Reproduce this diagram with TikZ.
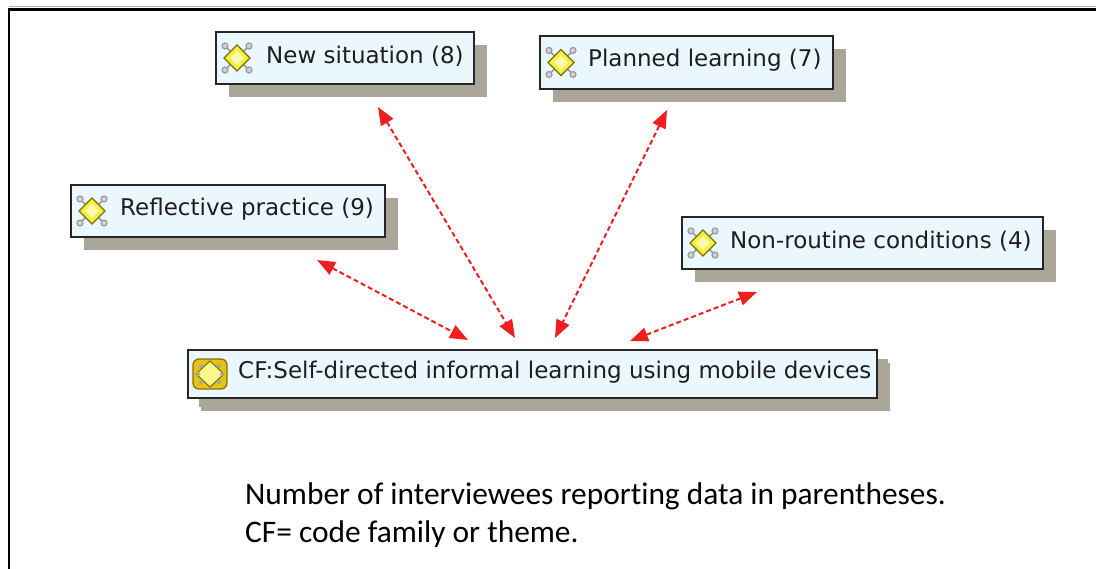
\documentclass[tikz,border=0pt]{standalone}
\usepackage{fontspec}
\setmainfont{DejaVu Sans}
\newfontfamily\calib[Ligatures=CommonOff]{Carlito}
\usetikzlibrary{arrows.meta,shadows}
\definecolor{shadowc}{RGB}{170,166,154}
\definecolor{boxfill}{RGB}{234,248,254}
\definecolor{txt}{RGB}{30,30,30}
\definecolor{arrred}{RGB}{240,30,30}
\definecolor{diafill}{RGB}{245,240,60}
\definecolor{diaedge}{RGB}{120,110,20}
\definecolor{cfgold}{RGB}{228,196,20}
\definecolor{cfedge}{RGB}{140,110,10}
\tikzset{
  box/.style={draw=black!85, line width=2pt, fill=boxfill, rectangle, inner sep=0pt, anchor=north west,
    drop shadow={shadow xshift=13pt, shadow yshift=-13pt, fill=shadowc, opacity=1}},
  cfbox/.style={box, drop shadow={shadow xshift=11pt, shadow yshift=-9pt, fill=shadowc, opacity=1}},
  lbl/.style={anchor=west, inner sep=0pt, text=txt, font=\fontsize{23}{27}\selectfont},
  note/.style={anchor=base west, inner sep=0pt, text=black, font=\calib\fontsize{31.4}{36}\selectfont},
  arr/.style={draw=arrred, line width=2pt, dash pattern=on 5pt off 3pt,
    {Triangle[length=18pt,width=14pt,fill=arrred]}-{Triangle[length=18pt,width=14pt,fill=arrred]}},
  icon/.pic={
    \foreach \a in {45,135,225,315}{
      \draw[gray!80, line width=1.6pt] (\a:6) -- (\a:17);
      \draw[gray!80, fill=gray!35, line width=1.2pt] (\a:17) circle (3);
    }
    \draw[fill=diafill, draw=diaedge, line width=1.3pt] (0,13) -- (13,0) -- (0,-13) -- (-13,0) -- cycle;
    \fill[white, opacity=0.6] (0,7) -- (7,0) -- (0,-7) -- (-7,0) -- cycle;
  },
  cficon/.pic={
    \draw[fill=cfgold, draw=cfedge, line width=1.3pt, rounded corners=6pt] (-17,-15) rectangle (17,15);
    \draw[fill=diafill!60!white, draw=diaedge, line width=1pt] (0,13) -- (14,0) -- (0,-13) -- (-14,0) -- cycle;
    \foreach \p in {(-9,-8),(9,-8),(-9,8),(9,8),(-12,0),(12,0)}{
      \fill[gray!70] \p circle (2);
    }
  }
}
\begin{document}
\begin{tikzpicture}[x=1pt,y=-1pt]
\useasboundingbox (0,0) rectangle (1096,569);
\fill[white] (0,0) rectangle (1096,569);
% frame
\draw[gray!60, line width=1pt] (9,7) -- (1096,7);
\draw[black, line width=2.2pt] (9,569) -- (9,9.5) -- (1096,9.5);

% boxes
\node[box, minimum width=258pt, minimum height=52pt] (ns) at (215,31) {};
\node[box, minimum width=293pt, minimum height=53pt] (pl) at (539,35) {};
\node[box, minimum width=314pt, minimum height=52pt] (rp) at (70,184) {};
\node[box, minimum width=361pt, minimum height=52pt] (nr) at (681,216) {};
\node[cfbox, minimum width=689pt, minimum height=48pt] (cf) at (187,349) {};

% icons
\pic at ([xshift=22pt]ns.west) {icon};
\pic at ([xshift=22pt]pl.west) {icon};
\pic at ([xshift=22pt]rp.west) {icon};
\pic at ([xshift=22pt]nr.west) {icon};
\pic at ([xshift=23pt]cf.west) {cficon};

% labels
\node[lbl] (nst) at ([xshift=51pt,yshift=2pt]ns.west) {New situation (8)};
\node[lbl] (plt) at ([xshift=49pt,yshift=2pt]pl.west) {Planned learning (7)};
\node[lbl] (rpt) at ([xshift=50pt,yshift=2pt]rp.west) {Reflective practice (9)};
\node[lbl] (nrt) at ([xshift=49pt,yshift=2pt]nr.west) {Non-routine conditions (4)};
\node[lbl] (cft) at ([xshift=51pt,yshift=2pt]cf.west) {CF:Self-directed informal learning using mobile devices};

% arrow end points
\coordinate (a1s) at (378,107); \coordinate (a1e) at (515,338);
\coordinate (a2s) at (667,110); \coordinate (a2e) at (555,338);
\coordinate (a3s) at (317,260); \coordinate (a3e) at (468,340);
\coordinate (a4s) at (757,292); \coordinate (a4e) at (630,341);
\draw[arr] (a1s) -- (a1e);
\draw[arr] (a2s) -- (a2e);
\draw[arr] (a3s) -- (a3e);
\draw[arr] (a4s) -- (a4e);

% notes
\node[note] (n1) at (245,504) {Number of interviewees reporting data in parentheses.};
\node[note] (n2) at (245,542) {CF= code family or theme.};
\end{tikzpicture}
\end{document}
